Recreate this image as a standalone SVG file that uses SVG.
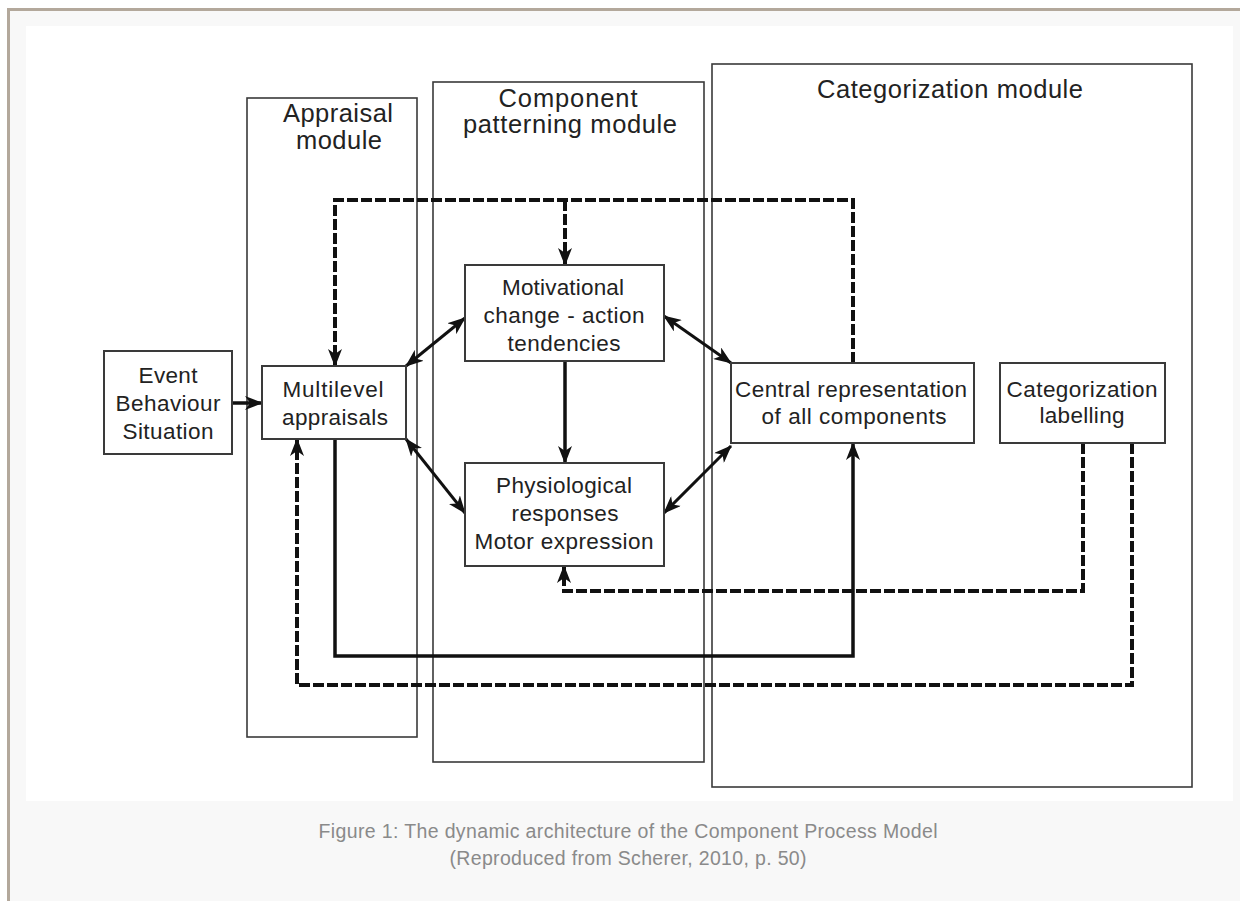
<svg xmlns="http://www.w3.org/2000/svg" width="1240" height="901" viewBox="0 0 1240 901">
<defs>
<style>
.mod{fill:none;stroke:#3a3a3a;stroke-width:1.6}
.box{fill:#fff;stroke:#3a3a3a;stroke-width:2}
.t{font-family:"Liberation Sans",Arial,sans-serif;fill:#222;text-anchor:middle}
.mt{font-size:25.5px}
.nt{font-size:22.5px}
.cap{font-family:"Liberation Sans",Arial,sans-serif;font-size:19.5px;fill:#8a8a8a;text-anchor:middle}
.s{fill:none;stroke:#111;stroke-width:3.5}
.d{fill:none;stroke:#111;stroke-width:4;stroke-dasharray:11 3}
.dbl{fill:none;stroke:#111;stroke-width:3}
</style>
<marker id="ah" viewBox="0 0 18 14" refX="17" refY="7" markerWidth="18" markerHeight="14" markerUnits="userSpaceOnUse" orient="auto-start-reverse">
<path d="M0,0 L18,7 L0,14 L5,7 z" fill="#111"/>
</marker>
</defs>
<rect x="0" y="0" width="1240" height="901" fill="#fff"/>
<rect x="8" y="9" width="1232" height="892" fill="#f8f8f8"/>
<line x1="7" y1="9.5" x2="1240" y2="9.5" stroke="#b3a89b" stroke-width="3"/>
<line x1="8.5" y1="8" x2="8.5" y2="901" stroke="#b3a89b" stroke-width="3"/>
<rect x="26" y="26" width="1207" height="775" fill="#fff"/>

<g id="appraisal-module">
<rect class="mod" x="247" y="98" width="170" height="639"/>
<text class="t mt" x="338" y="122" textLength="110" lengthAdjust="spacing">Appraisal</text>
<text class="t mt" x="339" y="149" textLength="86" lengthAdjust="spacing">module</text>
</g>
<g id="component-module">
<rect class="mod" x="433" y="82" width="271" height="680"/>
<text class="t mt" x="568" y="107" textLength="139" lengthAdjust="spacing">Component</text>
<text class="t mt" x="570" y="133" textLength="214" lengthAdjust="spacing">patterning module</text>
</g>
<g id="categorization-module">
<rect class="mod" x="712" y="64" width="480" height="723"/>
<text class="t mt" x="950" y="98" textLength="266" lengthAdjust="spacing">Categorization module</text>
</g>

<g id="connectors">
<line class="s" x1="232" y1="403" x2="262" y2="403" stroke-width="4" marker-end="url(#ah)"/>
<line class="dbl" x1="406" y1="366" x2="465" y2="318" marker-start="url(#ah)" marker-end="url(#ah)"/>
<line class="dbl" x1="406" y1="439" x2="465" y2="513" marker-start="url(#ah)" marker-end="url(#ah)"/>
<line class="dbl" x1="664" y1="316" x2="731" y2="363" marker-start="url(#ah)" marker-end="url(#ah)"/>
<line class="dbl" x1="664" y1="513" x2="731" y2="446" marker-start="url(#ah)" marker-end="url(#ah)"/>
<line class="s" x1="565" y1="361" x2="565" y2="463" marker-end="url(#ah)"/>
<path class="d" d="M853,363 V200 H335 V366" marker-end="url(#ah)"/>
<path class="d" d="M565,200 V265" marker-end="url(#ah)"/>
<path class="s" d="M335,439 V656 H853 V443" marker-end="url(#ah)"/>
<path class="d" d="M1083,443 V591 H564 V566" marker-end="url(#ah)"/>
<path class="d" d="M1132,443 V685 H297 V439" marker-end="url(#ah)"/>
</g>

<g id="event">
<rect class="box" x="104" y="351" width="128" height="103"/>
<text class="t nt" x="168" y="383" textLength="59" lengthAdjust="spacing">Event</text>
<text class="t nt" x="168" y="411" textLength="105" lengthAdjust="spacing">Behaviour</text>
<text class="t nt" x="168" y="439" textLength="91" lengthAdjust="spacing">Situation</text>
</g>
<g id="multilevel">
<rect class="box" x="262" y="366" width="144" height="73"/>
<text class="t nt" x="333" y="397" textLength="101" lengthAdjust="spacing">Multilevel</text>
<text class="t nt" x="335" y="425" textLength="106" lengthAdjust="spacing">appraisals</text>
</g>
<g id="motivational">
<rect class="box" x="465" y="265" width="199" height="96"/>
<text class="t nt" x="563" y="295" textLength="122" lengthAdjust="spacing">Motivational</text>
<text class="t nt" x="564" y="323" textLength="161" lengthAdjust="spacing">change - action</text>
<text class="t nt" x="564" y="351" textLength="113" lengthAdjust="spacing">tendencies</text>
</g>
<g id="physiological">
<rect class="box" x="465" y="463" width="199" height="103"/>
<text class="t nt" x="564" y="493" textLength="136" lengthAdjust="spacing">Physiological</text>
<text class="t nt" x="565" y="521" textLength="107" lengthAdjust="spacing">responses</text>
<text class="t nt" x="564" y="549" textLength="179" lengthAdjust="spacing">Motor expression</text>
</g>
<g id="central">
<rect class="box" x="731" y="363" width="243" height="80"/>
<text class="t nt" x="851" y="397" textLength="232" lengthAdjust="spacing">Central representation</text>
<text class="t nt" x="854" y="424" textLength="185" lengthAdjust="spacing">of all components</text>
</g>
<g id="labelling">
<rect class="box" x="1000" y="363" width="165" height="80"/>
<text class="t nt" x="1082" y="397" textLength="151" lengthAdjust="spacing">Categorization</text>
<text class="t nt" x="1082" y="423" textLength="85" lengthAdjust="spacing">labelling</text>
</g>

<g id="caption">
<text class="cap" x="628" y="838" textLength="619" lengthAdjust="spacing">Figure 1: The dynamic architecture of the Component Process Model</text>
<text class="cap" x="628" y="865" textLength="357" lengthAdjust="spacing">(Reproduced from Scherer, 2010, p. 50)</text>
</g>
</svg>
